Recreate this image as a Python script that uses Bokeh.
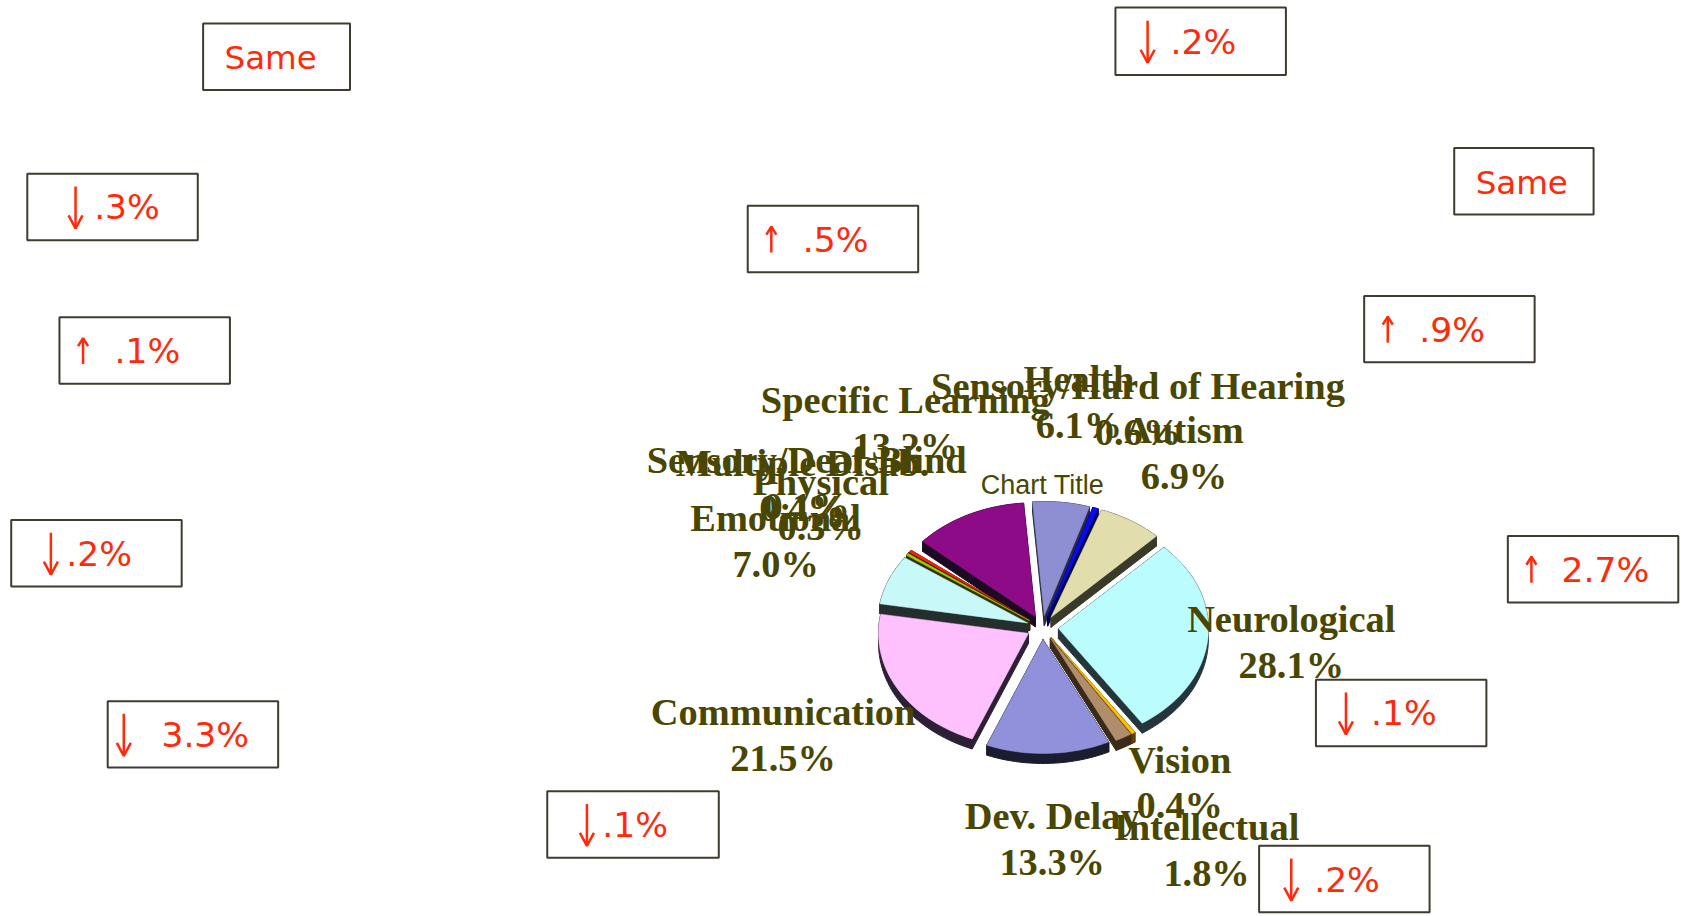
import math
from bokeh.plotting import figure
from bokeh.models import Range1d
from bokeh.core.properties import value
from bokeh.embed import file_html
from bokeh.resources import INLINE

# ---- data
categories = ["Health", "Sensory/Hard of Hearing", "Autism", "Neurological", "Vision",
              "Intellectual", "Dev. Delay", "Communication", "Emotional", "Physical",
              "Sensory/Deaf-Blind", "Multiple Disab.", "Specific Learning"]
shares = [6.1, 0.6, 6.9, 28.1, 0.4, 1.8, 13.3, 21.5, 7.0, 0.3, 0.1, 0.4, 13.2]
change_texts = ["Same", ".2%", "Same", ".3%", ".5%", ".9%", ".1%", ".2%", "2.7%", ".1%", "3.3%", ".1%", ".2%"]
change_dirs = [0, -1, 0, -1, 1, 1, 1, -1, 1, -1, -1, -1, -1]

# ---- layout and style (reference shrunk to 1568 wide; S converts to real pixels)
S = 1681 / 1568
slice_colors = ["#8E8FD2", "#0A0AF0", "#E2DDAC", "#BBFCFF", "#FFC000", "#B08E6C", "#9091DA",
                "#FFC0FE", "#C8F8F8", "#A8C800", "#303000", "#FF2000", "#8E0B88"]
side_colors = ["#2A2A40", "#000050", "#3A3A2A", "#24363C", "#604000", "#3A2A1A", "#1C1C30",
               "#2C2034", "#242E2C", "#303000", "#101000", "#501000", "#1C0A24"]
label_pos = [(1006, 353), (1061, 360), (1104, 401), (1204, 577), (1100, 708), (1125, 771), (981, 761),
             (730, 664), (723, 483), (765, 449), (752, 429), (748, 431), (844, 373)]
boxes = [(189, 22, 326, 84), (1040, 7, 1199, 70), (1356, 138, 1486, 200), (25, 162, 184, 224),
         (697, 192, 856, 254), (1272, 276, 1431, 338), (55, 296, 214, 358), (10, 485, 169, 547),
         (1406, 500, 1565, 562), (1227, 634, 1386, 696), (100, 654, 259, 716), (510, 738, 670, 800),
         (1174, 789, 1333, 851)]
change_text_x = [252, 1122, 1419, 118, 779, 1354, 137, 92, 1497, 1309, 191, 592, 1256]
change_font = ["32.5px" if t == "Same" else "34.5px" for t in change_texts]
arrow_x = [None, 1070, None, 70, 719, 1294, 77, 47, 1428, 1255, 115, 547, 1204]
CX, CY, RX, RY, EX, EY, DEPTH = 1042, 627, 150, 114, 16, 12, 10
START = -4.5
START_TRIM = {12: 3.5}

p = figure(width=1681, height=916, output_backend="svg", toolbar_location=None,
           x_range=Range1d(0, 1681), y_range=Range1d(916, 0),
           min_border=0, outline_line_color=None, background_fill_color="white")
p.axis.visible = False
p.grid.visible = False

# ---- pie
total = sum(shares)
wedges = []
a = START
for i, v in enumerate(shares):
    sweep = v / total * 360
    wedges.append((i, a + START_TRIM.get(i, 0), a + sweep))
    a += sweep


def wedge_outline(a0, a1, dy=0):
    mid = math.radians((a0 + a1) / 2)
    ox = CX + EX * math.sin(mid)
    oy = CY - EY * math.cos(mid) + dy
    n = max(3, int((a1 - a0) / 2) + 2)
    xs, ys = [ox], [oy]
    for k in range(n):
        t = math.radians(a0 + (a1 - a0) * k / (n - 1))
        xs.append(ox + RX * math.sin(t))
        ys.append(oy - RY * math.cos(t))
    return xs, ys


def depth_key(w):
    return -math.cos(math.radians((w[1] + w[2]) / 2))


for i, a0, a1 in sorted(wedges, key=depth_key):
    xs, ys = wedge_outline(a0, a1, DEPTH)
    tx, ty = wedge_outline(a0, a1)
    side = side_colors[i]
    p.patch(tx[1:] + xs[1:][::-1], ty[1:] + ys[1:][::-1], fill_color=side, line_color=side, line_width=1)
    p.patch([tx[0], tx[1], xs[1], xs[0]], [ty[0], ty[1], ys[1], ys[0]], fill_color=side, line_color=side, line_width=1)
    p.patch([tx[0], tx[-1], xs[-1], xs[0]], [ty[0], ty[-1], ys[-1], ys[0]], fill_color=side, line_color=side, line_width=1)
    p.patch(tx, ty, fill_color=slice_colors[i], line_color=slice_colors[i], line_width=0.5)

# ---- change boxes
p.quad(left=[b[0] * S for b in boxes], right=[b[2] * S for b in boxes],
       top=[b[1] * S - 0.5 for b in boxes], bottom=[b[3] * S - 0.5 for b in boxes],
       fill_color="white", line_color="#3F3B2E", line_width=2)
for t, x, b, f in zip(change_texts, change_text_x, boxes, change_font):
    p.text(x=[x * S], y=[(b[1] + b[3]) / 2 * S + (1 if t == "Same" else 0)], text=[t],
           text_font=value("DejaVu Sans"), text_font_size=f, text_color="#FF2A0A",
           text_align="center", text_baseline="middle")

for d, ax, b in zip(change_dirs, arrow_x, boxes):
    if d == 0:
        continue
    x = ax * S
    mid = (b[1] + b[3]) / 2 * S
    half = 21 if d < 0 else 13
    tail = mid - half if d < 0 else mid + half
    tip = mid + half if d < 0 else mid - half
    head = 13 if d < 0 else 8
    back = tip - head if d < 0 else tip + head
    hw = 7 if d < 0 else 5
    p.line([x, x], [tail, tip], line_color="#FF2A0A", line_width=2.5)
    p.line([x - hw, x, x + hw], [back, tip, back], line_color="#FF2A0A", line_width=2.5)

# ---- labels
lx, ly, lt = [], [], []
for name, v, (x, y) in zip(categories, shares, label_pos):
    lx += [x * S, x * S]
    ly += [y * S, (y + 42.5) * S]
    lt += [name, f"{v:.1f}%"]
p.text(x=lx, y=ly, text=lt, text_font=value("Liberation Serif"), text_font_style="bold",
       text_font_size="38.4px", text_color="#494600", text_align="center", text_baseline="middle")
p.text(x=[972 * S], y=[452 * S], text=["Chart Title"], text_font=value("Liberation Sans"),
       text_font_size="27px", text_color="#494600", text_align="center", text_baseline="middle")

open("out.html", "w").write(file_html(p, INLINE))
